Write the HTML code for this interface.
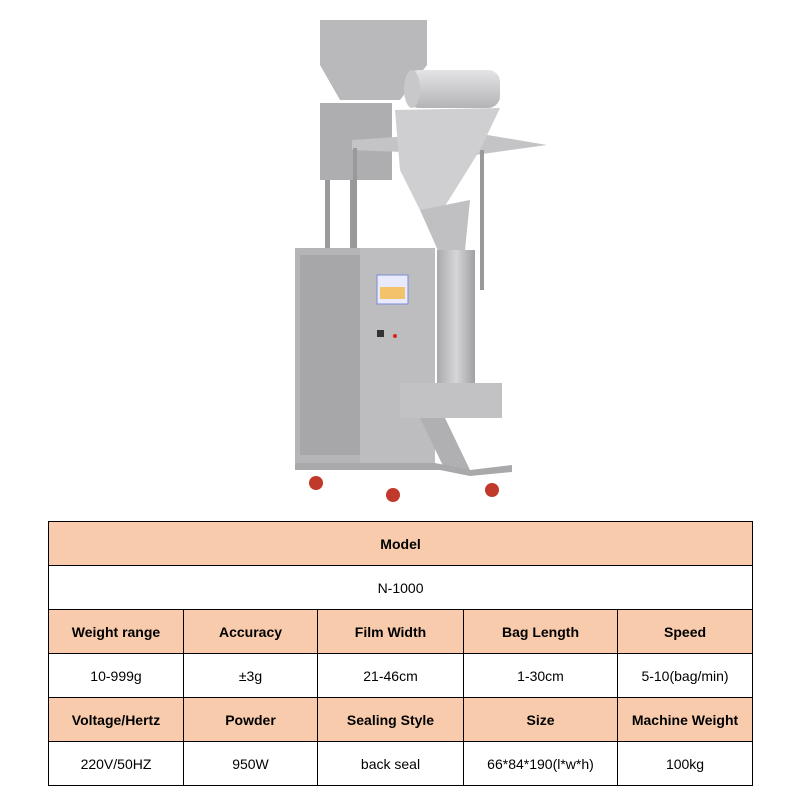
<!DOCTYPE html>
<html><head><style>
body{margin:0;background:#fff;width:800px;height:800px;position:relative;font-family:"Liberation Sans",Arial,sans-serif;overflow:hidden}
svg{position:absolute;left:0;top:0}
table{position:absolute;left:48px;top:521px;border-collapse:collapse;width:704px;table-layout:fixed}
td{border:1.5px solid #000;height:43px;text-align:center;font-size:14px;padding:0;box-sizing:border-box}
tr{height:44px}
.h td{background:#f8cbad;font-weight:bold}
</style></head><body>
<svg width="800" height="520" viewBox="0 0 800 520">
<defs>
<linearGradient id="g" x1="0" x2="1"><stop offset="0" stop-color="#a9a9ab"/><stop offset=".5" stop-color="#d6d6d8"/><stop offset="1" stop-color="#a0a0a2"/></linearGradient>
<linearGradient id="r" x1="0" y1="0" x2="0" y2="1"><stop offset="0" stop-color="#e4e4e6"/><stop offset="1" stop-color="#b4b4b6"/></linearGradient>
</defs>
<polygon points="320,20 427,20 427,65 400,100 340,100 320,65" fill="#b9b9bb"/>
<rect x="320" y="103" width="72" height="77" fill="#aeaeb0"/>
<rect x="325" y="180" width="5" height="68" fill="#9a9a9c"/>
<rect x="350" y="180" width="5" height="68" fill="#9a9a9c"/>
<polygon points="352,140 470,132 547,145 475,155 352,150" fill="#c4c4c6"/>
<rect x="353" y="148" width="4" height="140" fill="#999"/>
<rect x="480" y="150" width="4" height="140" fill="#999"/>
<rect x="407" y="70" width="93" height="38" rx="12" fill="url(#r)"/>
<ellipse cx="412" cy="89" rx="8" ry="19" fill="#c8c8ca"/>
<polygon points="395,110 500,108 480,150 430,230 400,170" fill="#cfcfd1"/>
<polygon points="420,210 470,200 465,250 440,255" fill="#c0c0c2"/>
<rect x="437" y="250" width="38" height="135" fill="url(#g)"/>
<rect x="295" y="248" width="140" height="215" fill="#b5b5b7"/>
<rect x="300" y="255" width="60" height="200" fill="#a7a7a9"/>
<rect x="360" y="248" width="75" height="215" fill="#bdbdbf"/>
<rect x="377" y="275" width="31" height="29" fill="#eaeaff" stroke="#7a8ad0"/>
<rect x="380" y="287" width="25" height="12" fill="#f3c36b"/>
<rect x="377" y="330" width="7" height="7" fill="#333"/>
<circle cx="395" cy="336" r="2" fill="#d22"/>
<rect x="400" y="383" width="102" height="35" fill="#c2c2c4"/>
<polygon points="420,418 445,418 470,470 445,470" fill="#b0b0b2"/>
<polygon points="295,463 435,463 470,470 512,465 512,472 470,476 440,470 295,470" fill="#a9a9ab"/>
<circle cx="316" cy="483" r="7" fill="#c0392b"/>
<circle cx="393" cy="495" r="7" fill="#c0392b"/>
<circle cx="492" cy="490" r="7" fill="#c0392b"/>
</svg>
<table>
<colgroup><col style="width:135px"><col style="width:134px"><col style="width:146px"><col style="width:154px"><col style="width:135px"></colgroup>
<tr class="h"><td colspan="5">Model</td></tr>
<tr><td colspan="5">N-1000</td></tr>
<tr class="h"><td>Weight range</td><td>Accuracy</td><td>Film Width</td><td>Bag Length</td><td>Speed</td></tr>
<tr><td>10-999g</td><td>±3g</td><td>21-46cm</td><td>1-30cm</td><td>5-10(bag/min)</td></tr>
<tr class="h"><td>Voltage/Hertz</td><td>Powder</td><td>Sealing Style</td><td>Size</td><td>Machine Weight</td></tr>
<tr><td>220V/50HZ</td><td>950W</td><td>back seal</td><td>66*84*190(l*w*h)</td><td>100kg</td></tr>
</table>
</body></html>
